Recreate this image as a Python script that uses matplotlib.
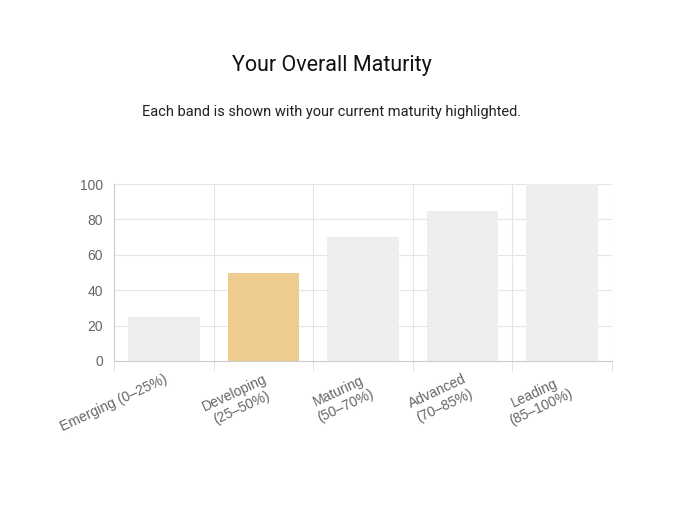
import matplotlib.pyplot as plt
import numpy as np

# Maturity bands and their values
bands = ['Emerging (0–25%)', 'Developing\n(25–50%)', 'Maturing\n(50–70%)',
         'Advanced\n(70–85%)', 'Leading\n(85–100%)']
values = [25, 50, 70, 85, 100]
current = 1  # index of highlighted band

base_color = '#eeeeec'
hi_color = '#eecb8e'

fig = plt.figure(figsize=(6.95, 5.14), dpi=100)
ax = fig.add_axes([114 / 695, 1 - 361 / 514, 498 / 695, 177 / 514])

x = np.arange(len(bands))
colors = [hi_color if i == current else base_color for i in x]
ax.bar(x, values, width=0.72, color=colors, zorder=2)

ax.set_xlim(-0.5, len(bands) - 0.5)
ax.set_ylim(0, 100)
ax.set_yticks(range(0, 101, 20))
ax.set_xticks(x)
ax.set_xticks(np.arange(-0.5, len(bands), 1), minor=True)
ax.set_xticklabels(bands, rotation=25, ha='right', rotation_mode='anchor',
                   multialignment='center', fontsize=10, color='#666666',
                   family='Liberation Sans')
for lab in ax.get_yticklabels():
    lab.set_fontsize(10)
    lab.set_color('#666666')
    lab.set_family('Liberation Sans')

ax.tick_params(axis='x', which='major', length=0, pad=8)
ax.tick_params(axis='x', which='minor', length=7, color='#dddddd')
ax.tick_params(axis='y', length=0, pad=8)
ax.grid(axis='y', color='#e5e5e5', lw=0.8, zorder=0)
ax.grid(axis='x', which='minor', color='#e5e5e5', lw=0.8, zorder=0)
for s in ['top', 'right']:
    ax.spines[s].set_visible(False)
for s in ['left', 'bottom']:
    ax.spines[s].set_color('#cccccc')
    ax.spines[s].set_linewidth(0.8)

fig.text(332 / 695, 1 - 65 / 514, 'Your Overall Maturity', ha='center', va='center',
         fontsize=15.5, family='Roboto', color='#111111')
fig.text(332 / 695, 1 - 112 / 514, 'Each band is shown with your current maturity highlighted.',
         ha='center', va='center', fontsize=10.5, family='Roboto', color='#222222')

fig.savefig('out.png', dpi=100)
